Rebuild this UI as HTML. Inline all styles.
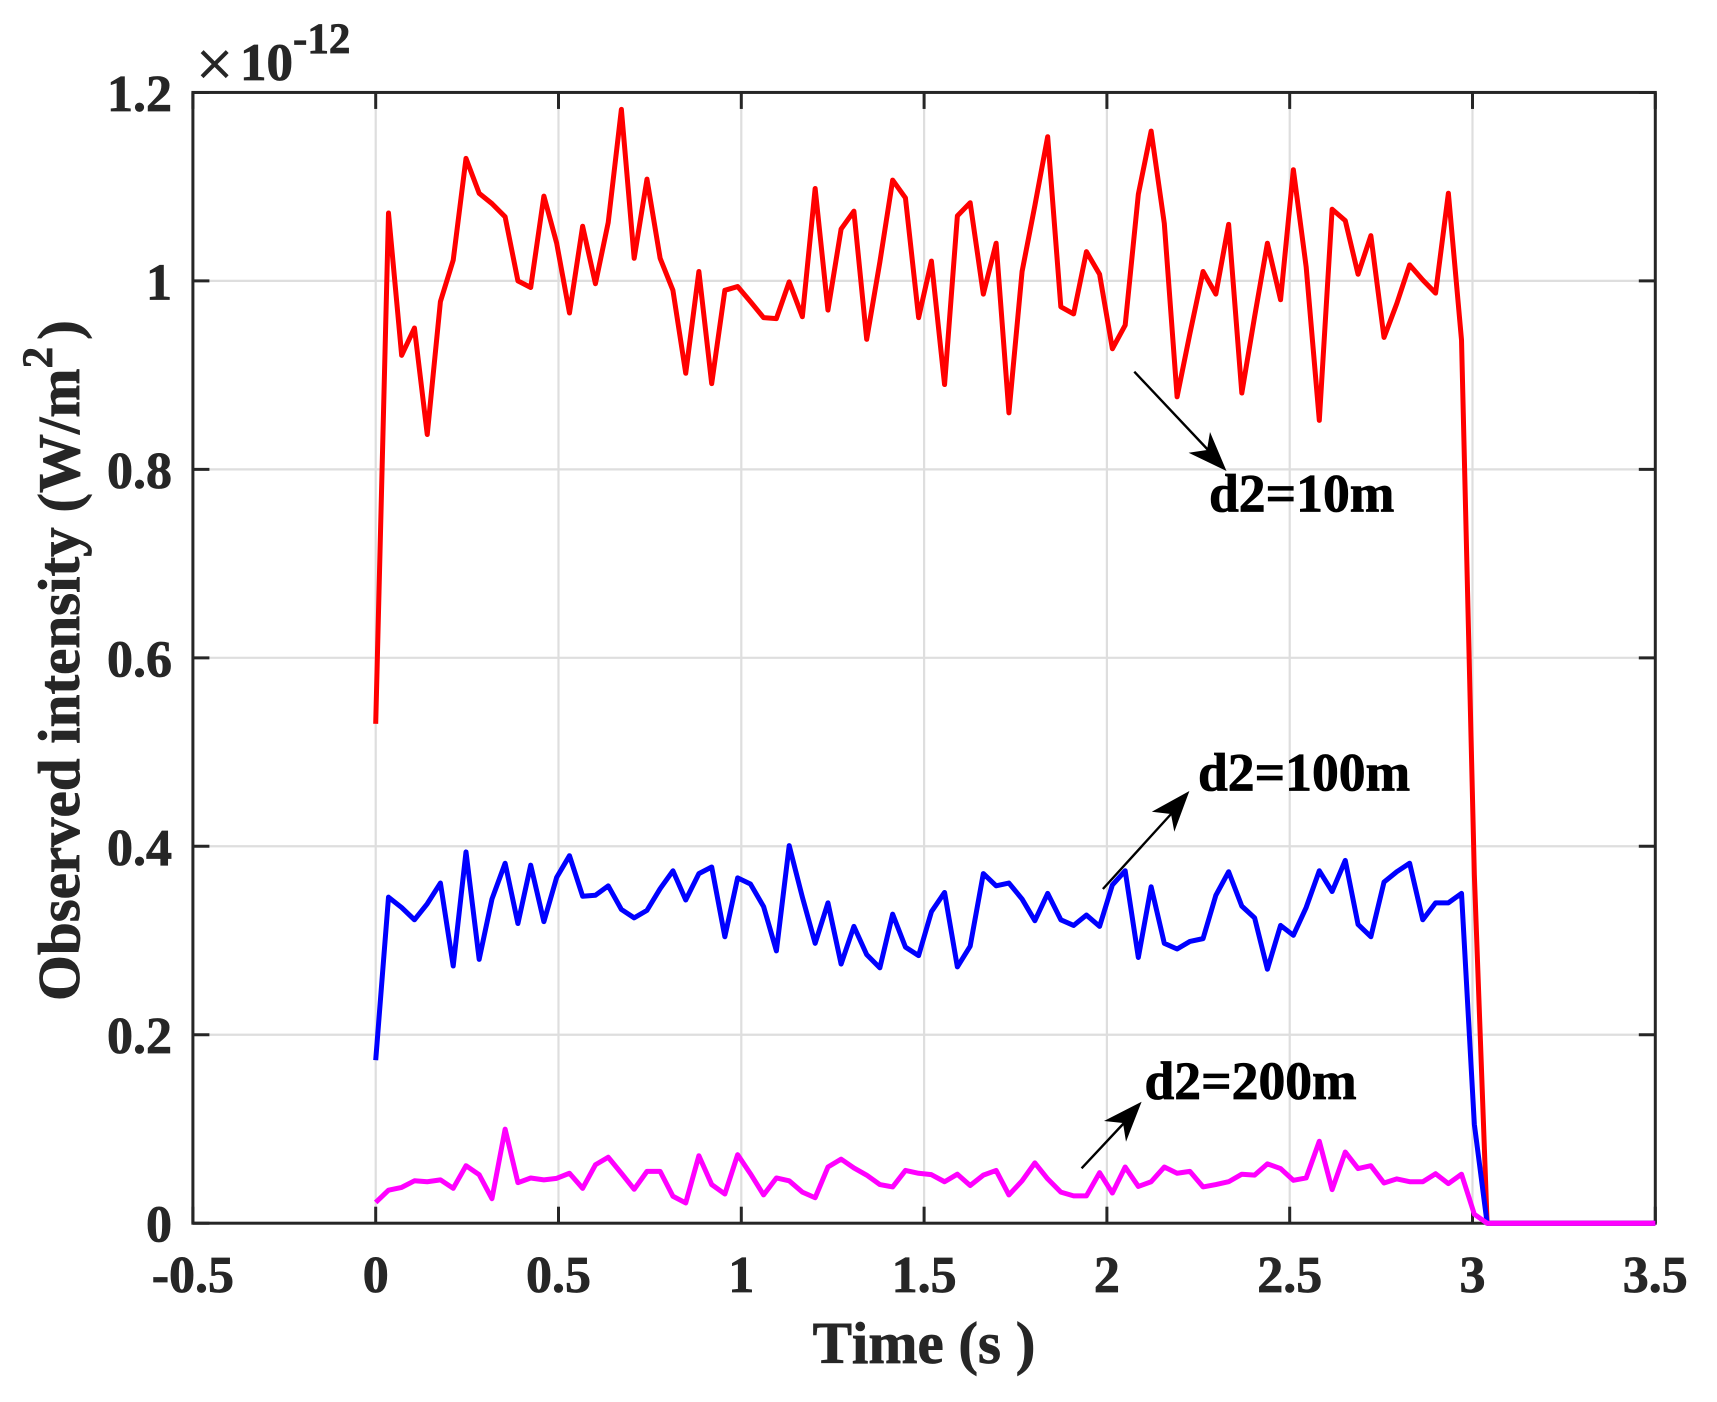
<!DOCTYPE html>
<html lang="en">
<head>
<meta charset="utf-8">
<title>Observed intensity vs time</title>
<style>
html,body{margin:0;padding:0;background:#fff;width:1717px;height:1402px;overflow:hidden}
svg{display:block;position:absolute;left:0;top:0}
text{font-family:"Liberation Serif","Times New Roman",serif;font-weight:bold;fill:#262626;stroke:#262626;stroke-width:.8px;font-kerning:none}
text.annot{fill:#000;stroke:#000}
</style>
</head>
<body>
<svg id="chart" xmlns="http://www.w3.org/2000/svg" width="1717" height="1402" viewBox="0 0 1717 1402">
  <rect x="0" y="0" width="1717" height="1402" fill="#ffffff"/>
  <g id="grid"></g>
  <g id="frame"></g>
  <g id="series"></g>
  <g id="xlabels"></g>
  <g id="ylabels"></g>

  <text x="924" y="1363" text-anchor="middle" font-size="59">Time (s )</text>
  <text transform="translate(79 1001) rotate(-90)" font-size="59">Observed intensity (W/m<tspan dy="-27" font-size="43">2</tspan><tspan dy="27" dx="7">)</tspan></text>

  <g>
    <text x="196" y="86" font-size="66" style="font-weight:normal">×</text>
    <text x="240" y="80" font-size="53">10</text>
    <text x="293" y="53" font-size="43">-12</text>
  </g>

  <g>
    <line x1="1134.3" y1="371.7" x2="1210" y2="452" stroke="#000" stroke-width="2.4"/>
    <polygon points="1226.5,471 1188.6,452.7 1207,450 1210,432" fill="#000"/>
    <text class="annot" x="1209" y="511.7" font-size="53.6">d2=10m</text>
  </g>
  <g>
    <line x1="1102.9" y1="889" x2="1172" y2="813" stroke="#000" stroke-width="2.4"/>
    <polygon points="1189.4,791 1151.8,811.7 1171,814 1174.3,831.7" fill="#000"/>
    <text class="annot" x="1198" y="790.7" font-size="53.6">d2=100m</text>
  </g>
  <g>
    <line x1="1081.6" y1="1168.3" x2="1124" y2="1123" stroke="#000" stroke-width="2.4"/>
    <polygon points="1141.6,1101.7 1104,1121 1123,1123 1126,1141.7" fill="#000"/>
    <text class="annot" x="1144.5" y="1099" font-size="53.6">d2=200m</text>
  </g>
</svg>

<script>
const times = [
0,.035,.071,.106,.141,.177,.212,.247,.283,.318,
.354,.389,.424,.46,.495,.53,.566,.601,.636,.672,
.707,.742,.778,.813,.848,.884,.919,.955,.99,1.025,
1.061,1.096,1.131,1.167,1.202,1.237,1.273,1.308,1.343,1.379,
1.414,1.449,1.485,1.52,1.556,1.591,1.626,1.662,1.697,1.732,
1.768,1.803,1.838,1.874,1.909,1.944,1.98,2.015,2.05,2.086,
2.121,2.157,2.192,2.227,2.263,2.298,2.333,2.369,2.404,2.439,
2.475,2.51,2.545,2.581,2.616,2.652,2.687,2.722,2.758,2.793,
2.828,2.864,2.899,2.934,2.97,3.005,3.04,3.076,3.111,3.146,
3.182,3.217,3.253,3.288,3.323,3.359,3.394,3.429,3.465,3.5];

const d2_10m = [
.53,1.072,.921,.95,.837,.978,1.022,1.13,1.093,1.082,
1.068,1,.993,1.09,1.04,.966,1.058,.997,1.062,1.182,
1.024,1.108,1.024,.99,.902,1.01,.891,.99,.994,.978,
.961,.96,.999,.962,1.098,.969,1.055,1.074,.938,1.02,
1.107,1.088,.961,1.021,.89,1.069,1.083,.986,1.04,.86,
1.01,1.08,1.153,.9725,.965,1.031,1.007,.928,.953,1.092,
1.159,1.061,.877,.944,1.01,.986,1.06,.881,.962,1.04,
.98,1.118,1.015,.852,1.076,1.064,1.007,1.048,.94,.976,
1.017,1.001,.987,1.093,.937,.37,0,0,0,0,
0,0,0,0,0,0,0,0,0,0];

const d2_100m = [
.173,.346,.335,.322,.339,.361,.273,.394,.28,.344,
.382,.318,.38,.32,.367,.39,.347,.348,.358,.333,
.324,.332,.355,.374,.343,.371,.378,.304,.3665,.36,
.336,.289,.4007,.346,.297,.34,.275,.315,.285,.271,
.328,.293,.284,.3305,.351,.272,.294,.371,.358,.361,
.344,.321,.35,.322,.316,.327,.315,.359,.374,.282,
.357,.297,.291,.299,.302,.348,.373,.3365,.324,.2695,
.316,.3055,.335,.374,.352,.385,.317,.304,.362,.373,
.382,.322,.34,.34,.35,.105,0,0,0,0,
0,0,0,0,0,0,0,0,0,0];

const d2_200m = [
.022,.035,.038,.045,.044,.046,.037,.061,.0515,.026,
.0998,.043,.048,.046,.0476,.053,.037,.062,.07,.053,
.036,.055,.055,.0286,.0215,.0716,.041,.031,.0727,.0525,
.03,.048,.045,.033,.027,.0596,.068,.0586,.051,.041,
.0385,.056,.053,.0515,.044,.052,.04,.051,.056,.03,
.045,.064,.047,.033,.029,.029,.0536,.032,.0596,.039,
.044,.0596,.053,.055,.0385,.041,.044,.052,.051,.063,
.058,.0455,.048,.087,.0356,.0755,.058,.061,.0427,.047,
.044,.044,.0525,.042,.052,.0095,0,0,0,0,
0,0,0,0,0,0,0,0,0,0];

const xTicks = [-0.5,0,0.5,1,1.5,2,2.5,3,3.5];
const xTickLabels = ["-0.5","0","0.5","1","1.5","2","2.5","3","3.5"];
const yTicks = [0,0.2,0.4,0.6,0.8,1,1.2];
const yTickLabels = ["0","0.2","0.4","0.6","0.8","1","1.2"];

const NS = "http://www.w3.org/2000/svg";
const xPerUnit = 365.6, xZero = 375.7;
const yPerUnit = 942.3, yZero = 1223.2;
const xAxis = function (v) { return xZero + v * xPerUnit; };
const yAxis = function (v) { return yZero - v * yPerUnit; };
const left = xAxis(-0.5), right = xAxis(3.5), bottom = yAxis(0), top_ = yAxis(1.2);
const INK = "#262626";

function mk(tag, parent, attrs) {
  const el = document.createElementNS(NS, tag);
  for (const k in attrs) el.setAttribute(k, attrs[k]);
  parent.appendChild(el);
  return el;
}

const grid = document.getElementById("grid");
const frame = document.getElementById("frame");
const seriesGroup = document.getElementById("series");
const xlabels = document.getElementById("xlabels");
const ylabels = document.getElementById("ylabels");

xTicks.forEach(function (v, i) {
  const x = xAxis(v);
  const g = mk("line", grid, {x1: x, x2: x, y1: top_, y2: bottom, stroke: "#dedede", "stroke-width": 2.2});
  
  
  const t1 = mk("line", frame, {x1: x, x2: x, y1: bottom, y2: bottom - 16.5, stroke: INK, "stroke-width": 3});
  
  
  const t2 = mk("line", frame, {x1: x, x2: x, y1: top_, y2: top_ + 16.5, stroke: INK, "stroke-width": 3});
  
  
  const lab = mk("text", xlabels, {x: x, y: 1292, "text-anchor": "middle", "font-size": 52});
  
  
  lab.textContent = xTickLabels[i];
});

yTicks.forEach(function (v, i) {
  const y = yAxis(v);
  const g = mk("line", grid, {x1: left, x2: right, y1: y, y2: y, stroke: "#dedede", "stroke-width": 2.2});
  
  
  const t1 = mk("line", frame, {x1: left, x2: left + 16.5, y1: y, y2: y, stroke: INK, "stroke-width": 3});
  
  
  const t2 = mk("line", frame, {x1: right, x2: right - 16.5, y1: y, y2: y, stroke: INK, "stroke-width": 3});
  
  
  const lab = mk("text", ylabels, {x: 172, y: y + 18.5, "text-anchor": "end", "font-size": 52});
  
  
  lab.textContent = yTickLabels[i];
});

const box = mk("rect", frame, {x: left, y: top_, width: right - left, height: bottom - top_, fill: "none", stroke: INK, "stroke-width": 3});



function drawSeries(values, color) {
  const pts = values.map(function (v, i) { return xAxis(times[i]).toFixed(2) + "," + yAxis(v).toFixed(2); }).join(" ");
  return mk("polyline", seriesGroup, {points: pts, fill: "none", stroke: color, "stroke-width": 5, "stroke-linejoin": "round"});
}

const lineRed = drawSeries(d2_10m, "#ff0000");


const lineBlue = drawSeries(d2_100m, "#0000ff");


const lineMagenta = drawSeries(d2_200m, "#ff00ff");


</script>
</body>
</html>
